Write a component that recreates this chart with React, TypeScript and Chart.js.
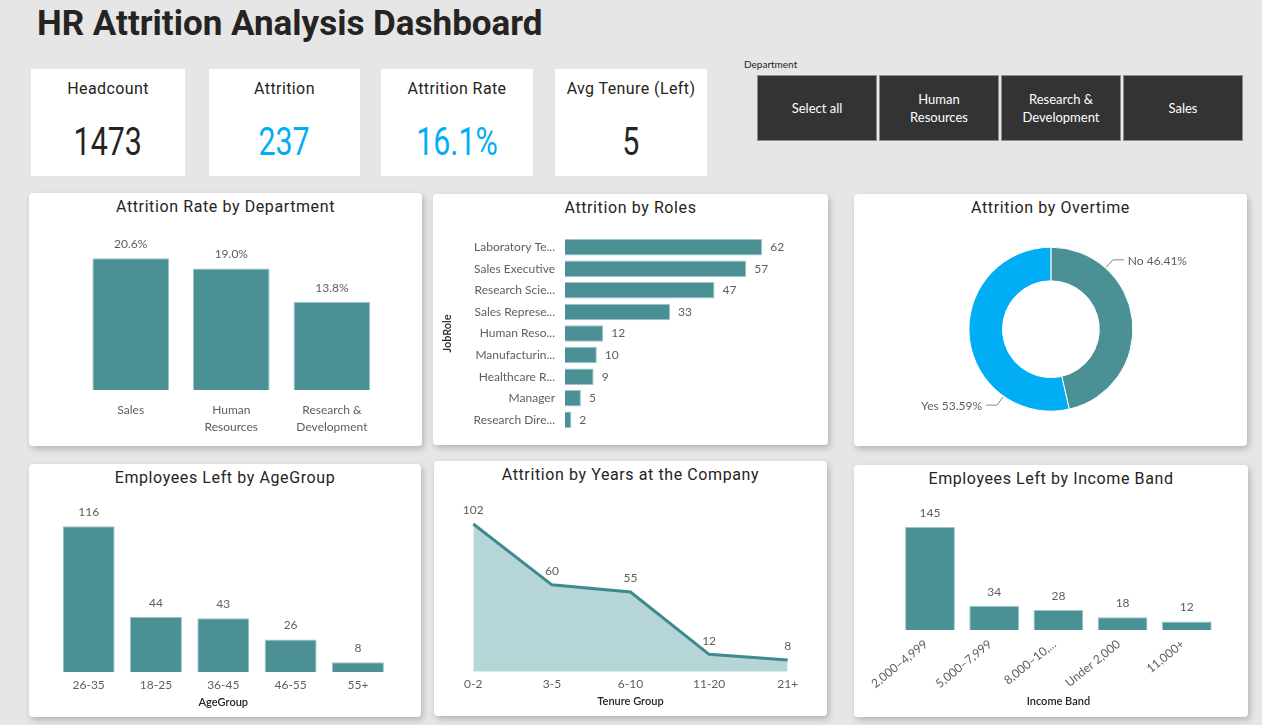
import React, { useEffect, useRef } from 'react';
import { Chart, registerables } from 'chart.js';
Chart.register(...registerables);

// ---------- data ----------
const kpiLabels = ['Headcount', 'Attrition', 'Attrition Rate', 'Avg Tenure (Left)'];
const kpiValues = ['1473', '237', '16.1%', '5'];
const deptButtons = [['Select all'], ['Human', 'Resources'], ['Research &', 'Development'], ['Sales']];

const deptLabels = ['Sales', ['Human', 'Resources'], ['Research &', 'Development']];
const deptRates = [20.6, 19.0, 13.8];

const roleLabels = ['Laboratory Te...', 'Sales Executive', 'Research Scie...', 'Sales Represe...', 'Human Reso...', 'Manufacturin...', 'Healthcare R...', 'Manager', 'Research Dire...'];
const roleCounts = [62, 57, 47, 33, 12, 10, 9, 5, 2];

const overtimeLabels = ['No', 'Yes'];
const overtimeShares = [46.41, 53.59];

const ageLabels = ['26-35', '18-25', '36-45', '46-55', '55+'];
const ageCounts = [116, 44, 43, 26, 8];

const tenureLabels = ['0-2', '3-5', '6-10', '11-20', '21+'];
const tenureCounts = [102, 60, 55, 12, 8];

const incomeLabels = ['2,000–4,999', '5,000–7,999', '8,000–10,...', 'Under 2,000', '11,000+'];
const incomeCounts = [145, 34, 28, 18, 12];

// ---------- style ----------
const TEAL = '#4A9094';
const TEAL_EDGE = '#9cc6c9';
const CYAN = '#01AEF6';
const LABEL = '#605E5C';
const DARK = '#252423';
const FONT = 'Lato, "Noto Sans", sans-serif';
const TITLE_FONT = 'Roboto, "Noto Sans", sans-serif';

Chart.defaults.font.family = FONT;
Chart.defaults.color = LABEL;

function valueLabels(fmt: (v: number) => string, horizontal = false, dist = 14) {
  return {
    id: 'valueLabels',
    afterDatasetsDraw(chart: any) {
      const ctx = chart.ctx;
      const meta = chart.getDatasetMeta(0);
      const data = chart.data.datasets[0].data as number[];
      ctx.save();
      ctx.font = `12px ${FONT}`;
      ctx.fillStyle = LABEL;
      ctx.textBaseline = 'middle';
      meta.data.forEach((el: any, i: number) => {
        const t = fmt(data[i]);
        if (horizontal) {
          ctx.textAlign = 'left';
          ctx.fillText(t, el.x + 8, el.y);
        } else {
          ctx.textAlign = 'center';
          ctx.fillText(t, el.x, el.y - dist);
        }
      });
      ctx.restore();
    },
  };
}

const leaderLines = {
  id: 'leaderLines',
  afterDatasetsDraw(chart: any) {
    const ctx = chart.ctx;
    const meta = chart.getDatasetMeta(0);
    const labels = chart.data.labels as string[];
    const data = chart.data.datasets[0].data as number[];
    ctx.save();
    meta.data.forEach((arc: any, i: number) => {
      const { x, y, startAngle, endAngle, outerRadius } = arc.getProps(['x', 'y', 'startAngle', 'endAngle', 'outerRadius'], true);
      const a = startAngle + 0.25 * (endAngle - startAngle);
      const c = Math.cos(a), s = Math.sin(a);
      const x1 = x + (outerRadius + 1) * c, y1 = y + (outerRadius + 1) * s;
      const x2 = x + (outerRadius + 11) * c, y2 = y + (outerRadius + 11) * s;
      const dir = c >= 0 ? 1 : -1;
      const x3 = x2 + dir * 11;
      ctx.strokeStyle = '#8a8886';
      ctx.lineWidth = 1;
      ctx.beginPath();
      ctx.moveTo(x1, y1);
      ctx.lineTo(x2, y2);
      ctx.lineTo(x3, y2);
      ctx.stroke();
      ctx.font = `12px ${FONT}`;
      ctx.fillStyle = LABEL;
      ctx.textBaseline = 'middle';
      ctx.textAlign = dir > 0 ? 'left' : 'right';
      ctx.fillText(`${labels[i]} ${data[i].toFixed(2)}%`, x3 + dir * 4, y2 + 1);
    });
    ctx.restore();
  },
};

const baseOpts = {
  animation: false,
  responsive: true,
  maintainAspectRatio: false,
  events: [],
};

function xAxis(height: number, padding: number, title?: string, titlePad = 8, extra: any = {}) {
  return {
    grid: { display: false, drawTicks: false },
    border: { display: false },
    ticks: { color: LABEL, font: { size: 12, lineHeight: 1.2 }, padding, maxRotation: 0, autoSkip: false, ...extra },
    title: title
      ? { display: true, text: title, color: DARK, font: { size: 11, weight: '600', lineHeight: 1.2 }, padding: { top: 0, bottom: titlePad } }
      : { display: false },
    afterFit: (s: any) => { s.height = height; },
  };
}

function deptConfig(): any {
  return {
    type: 'bar',
    data: { labels: deptLabels, datasets: [{ data: deptRates, backgroundColor: TEAL, borderColor: TEAL_EDGE, borderWidth: 1, categoryPercentage: 1, barPercentage: 0.762 }] },
    options: {
      ...baseOpts,
      layout: { padding: { left: 51.4, right: 39.8, top: 7, bottom: 0 } },
      plugins: { legend: { display: false }, tooltip: { enabled: false } },
      scales: {
        x: { ...xAxis(56, 11.6), ticks: { color: LABEL, font: { size: 12, lineHeight: 1.4 }, padding: 12.2, maxRotation: 0, autoSkip: false } },
        y: { display: false, min: 0, max: 25 },
      },
    },
    plugins: [valueLabels((v) => v.toFixed(1) + '%')],
  };
}

function rolesConfig(): any {
  return {
    type: 'bar',
    data: { labels: roleLabels, datasets: [{ data: roleCounts, backgroundColor: TEAL, borderColor: TEAL_EDGE, borderWidth: 1, categoryPercentage: 1, barPercentage: 0.765 }] },
    options: {
      ...baseOpts,
      indexAxis: 'y',
      layout: { padding: { left: 0, right: 24.4, top: 12.4, bottom: 14.4 } },
      plugins: { legend: { display: false }, tooltip: { enabled: false } },
      scales: {
        x: { display: false, min: 0, max: 75 },
        y: {
          grid: { display: false, drawTicks: true, tickLength: 10 },
          border: { display: false },
          ticks: { color: LABEL, font: { size: 12 }, padding: 0, autoSkip: false },
          title: { display: true, text: 'JobRole', color: DARK, font: { size: 11, weight: '600', lineHeight: 1.2 }, padding: { top: 8, bottom: 0 } },
          afterFit: (s: any) => { s.width = 132; },
        },
      },
    },
    plugins: [valueLabels((v) => String(v), true)],
  };
}

function overtimeConfig(): any {
  return {
    type: 'doughnut',
    data: { labels: overtimeLabels, datasets: [{ data: overtimeShares, backgroundColor: [TEAL, CYAN], borderColor: '#ffffff', borderWidth: 1, hoverOffset: 0 }] },
    options: {
      ...baseOpts,
      cutout: '59%',
      layout: { padding: { left: 114.4, right: 113.6, top: 22.7, bottom: 34.3 } },
      plugins: { legend: { display: false }, tooltip: { enabled: false } },
    },
    plugins: [leaderLines],
  };
}

function ageConfig(): any {
  return {
    type: 'bar',
    data: { labels: ageLabels, datasets: [{ data: ageCounts, backgroundColor: TEAL, borderColor: TEAL_EDGE, borderWidth: 1, categoryPercentage: 1, barPercentage: 0.772 }] },
    options: {
      ...baseOpts,
      layout: { padding: { left: 26, right: 29.4, top: 14.6, bottom: 0 } },
      plugins: { legend: { display: false }, tooltip: { enabled: false } },
      scales: {
        x: xAxis(44.7, 5.5, 'AgeGroup', 7.7),
        y: { display: false, min: 0, max: 130 },
      },
    },
    plugins: [valueLabels((v) => String(v))],
  };
}

function tenureConfig(): any {
  return {
    type: 'line',
    data: { labels: tenureLabels, datasets: [{ data: tenureCounts, borderColor: '#3E8A8E', borderWidth: 3, backgroundColor: '#B5D5D7', fill: 'origin', pointRadius: 0, tension: 0 }] },
    options: {
      ...baseOpts,
      layout: { padding: { left: 39.3, right: 39.3, top: 14.2, bottom: 0 } },
      plugins: { legend: { display: false }, tooltip: { enabled: false } },
      scales: {
        x: { ...xAxis(44.3, 5.5, 'Tenure Group', 7.7), offset: false },
        y: { display: false, min: 0, max: 115 },
      },
    },
    plugins: [valueLabels((v) => String(v), false, 13.5)],
  };
}

function incomeConfig(): any {
  return {
    type: 'bar',
    data: { labels: incomeLabels, datasets: [{ data: incomeCounts, backgroundColor: TEAL, borderColor: TEAL_EDGE, borderWidth: 1, categoryPercentage: 1, barPercentage: 0.776 }] },
    options: {
      ...baseOpts,
      layout: { padding: { left: 43.9, right: 29.1, top: 21.4, bottom: 0 } },
      plugins: { legend: { display: false }, tooltip: { enabled: false } },
      scales: {
        x: xAxis(87, 7, 'Income Band', 9, { minRotation: 39, maxRotation: 39, labelOffset: -4 }),
        y: { display: false, min: 0, max: 160 },
      },
    },
    plugins: [valueLabels((v) => String(v))],
  };
}

// ---------- components ----------
function ChartBox({ make, top, height }: { make: () => any; top: number; height: number }) {
  const ref = useRef<HTMLCanvasElement>(null);
  useEffect(() => {
    const c = new Chart(ref.current as HTMLCanvasElement, make());
    return () => c.destroy();
  }, []);
  return (
    <div style={{ position: 'absolute', left: 0, right: 0, top, height }}>
      <canvas ref={ref} />
    </div>
  );
}

function Card({ x, y, w, h, title, children }: any) {
  return (
    <div style={{ position: 'absolute', left: x, top: y, width: w, height: h, background: '#fff', borderRadius: 4, boxShadow: '2px 3px 6px rgba(0,0,0,0.22)' }}>
      <div style={{ position: 'absolute', left: 0, right: 0, top: 4, lineHeight: '22px', textAlign: 'center', font: `400 16px ${TITLE_FONT}`, letterSpacing: 0.6, color: DARK }}>{title}</div>
      {children}
    </div>
  );
}

const kpiBoxes = [
  { x: 31, w: 154, color: DARK },
  { x: 209, w: 151, color: CYAN },
  { x: 381, w: 152, color: CYAN },
  { x: 555, w: 152, color: DARK },
];

const btnX = [757, 879, 1001, 1123];

export default function App() {
  return (
    <div style={{ position: 'absolute', left: 0, top: 0, width: 1262, height: 725, background: '#E6E6E6', overflow: 'hidden', fontFamily: FONT }}>
      <div style={{ position: 'absolute', left: 37, top: 2, font: `bold 35px ${TITLE_FONT}`, letterSpacing: 0, color: DARK, lineHeight: '44px', whiteSpace: 'nowrap' }}>HR Attrition Analysis Dashboard</div>

      {kpiBoxes.map((b, i) => (
        <div key={i} style={{ position: 'absolute', left: b.x, top: 69, width: b.w, height: 107, background: '#fff' }}>
          <div style={{ position: 'absolute', left: 0, right: 0, top: 10, lineHeight: '22px', textAlign: 'center', font: `16px ${TITLE_FONT}`, letterSpacing: 0.4, color: DARK }}>{kpiLabels[i]}</div>
          <div style={{ position: 'absolute', left: 0, right: 0, top: 51, lineHeight: '46px', textAlign: 'center', color: b.color }}>
            <span style={{ display: 'inline-block', font: `38px ${TITLE_FONT}`, transform: 'scaleX(0.8)' }}>{kpiValues[i]}</span>
          </div>
        </div>
      ))}

      <div style={{ position: 'absolute', left: 744, top: 58, font: `10px ${FONT}`, color: DARK, lineHeight: '12px' }}>Department</div>
      {deptButtons.map((lines, i) => (
        <div key={i} style={{ position: 'absolute', left: btnX[i], top: 75, width: 120, height: 66, boxSizing: 'border-box', background: '#333333', border: '1px solid #8c8c8c', color: '#fff', display: 'flex', flexDirection: 'column', alignItems: 'center', justifyContent: 'center', font: `13px ${FONT}`, lineHeight: '18px' }}>
          {lines.map((l, j) => <div key={j}>{l}</div>)}
        </div>
      ))}

      <Card x={29} y={193} w={393} h={253} title="Attrition Rate by Department">
        <ChartBox make={deptConfig} top={30} height={223} />
      </Card>
      <Card x={433} y={194} w={395} h={251} title="Attrition by Roles">
        <ChartBox make={rolesConfig} top={30} height={221} />
      </Card>
      <Card x={854} y={194} w={393} h={252} title="Attrition by Overtime">
        <ChartBox make={overtimeConfig} top={30} height={222} />
      </Card>
      <Card x={29} y={464} w={392} h={253} title="Employees Left by AgeGroup">
        <ChartBox make={ageConfig} top={30} height={223} />
      </Card>
      <Card x={434} y={461} w={393} h={255} title="Attrition by Years at the Company">
        <ChartBox make={tenureConfig} top={30} height={225} />
      </Card>
      <Card x={854} y={465} w={394} h={252} title="Employees Left by Income Band">
        <ChartBox make={incomeConfig} top={30} height={222} />
      </Card>
    </div>
  );
}
